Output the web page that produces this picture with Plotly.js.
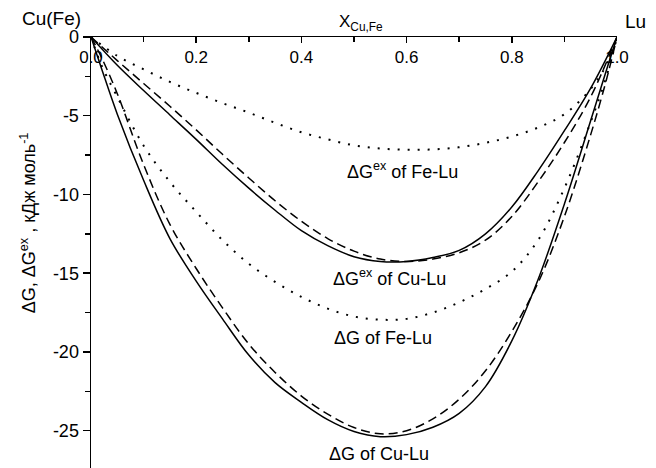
<!DOCTYPE html>
<html>
<head>
<meta charset="utf-8">
<script src="https://cdn.plot.ly/plotly-3.0.1.min.js"></script>
<style>html,body{margin:0;padding:0;background:#fff}#chart{width:656px;height:468px}</style>
</head>
<body>
<div id="chart"></div>
<script>
// ΔG^ex of Fe-Lu (dotted)
const exFeLuX = [0, 0.05, 0.1, 0.15, 0.2, 0.25, 0.3, 0.35, 0.4, 0.45, 0.5, 0.55, 0.6, 0.65, 0.7, 0.75, 0.8, 0.85, 0.9, 0.95, 0.98, 1.0];
const exFeLuY = [0, -1.2, -2.05, -2.85, -3.55, -4.2, -4.8, -5.45, -6.05, -6.5, -6.88, -7.08, -7.16, -7.14, -7.0, -6.72, -6.32, -5.75, -4.9, -3.3, -1.75, 0];
// ΔG^ex of Cu-Lu, solid
const exCuLuSolidX = [0, 0.05, 0.1, 0.15, 0.2, 0.25, 0.3, 0.35, 0.4, 0.45, 0.5, 0.55, 0.6, 0.65, 0.7, 0.75, 0.8, 0.85, 0.9, 0.95, 1.0];
const exCuLuSolidY = [0, -1.8, -3.4, -4.95, -6.5, -8.1, -9.6, -11.0, -12.3, -13.25, -13.95, -14.25, -14.25, -14.0, -13.55, -12.5, -10.8, -8.5, -5.95, -3.25, 0];
// ΔG^ex of Cu-Lu, dashed
const exCuLuDashX = [0, 0.05, 0.1, 0.15, 0.2, 0.25, 0.3, 0.35, 0.4, 0.45, 0.5, 0.55, 0.6, 0.65, 0.7, 0.75, 0.8, 0.85, 0.9, 0.95, 1.0];
const exCuLuDashY = [0, -1.5, -2.95, -4.4, -5.9, -7.45, -8.95, -10.4, -11.7, -12.8, -13.6, -14.1, -14.25, -14.1, -13.7, -12.9, -11.4, -9.2, -6.7, -3.8, 0];
// ΔG of Fe-Lu (dotted)
const gFeLuX = [0, 0.02, 0.05, 0.1, 0.15, 0.2, 0.25, 0.3, 0.35, 0.4, 0.45, 0.5, 0.55, 0.6, 0.65, 0.7, 0.75, 0.8, 0.85, 0.9, 0.95, 0.98, 1.0];
const gFeLuY = [0, -1.8, -3.8, -6.9, -9.2, -11.1, -12.9, -14.4, -15.55, -16.5, -17.25, -17.75, -17.95, -17.9, -17.5, -16.85, -16.0, -14.9, -12.9, -9.6, -5.4, -2.5, 0];
// ΔG of Cu-Lu, solid
const gCuLuSolidX = [0, 0.02, 0.05, 0.1, 0.15, 0.2, 0.25, 0.3, 0.35, 0.4, 0.45, 0.5, 0.55, 0.6, 0.65, 0.7, 0.75, 0.8, 0.85, 0.9, 0.95, 0.98, 1.0];
const gCuLuSolidY = [0, -2.0, -4.9, -9.1, -12.8, -15.5, -17.9, -20.2, -21.95, -23.2, -24.3, -25.05, -25.38, -25.25, -24.78, -23.9, -22.2, -19.3, -15.4, -10.6, -5.3, -2.1, 0];
// ΔG of Cu-Lu, dashed
const gCuLuDashX = [0, 0.02, 0.05, 0.1, 0.15, 0.2, 0.25, 0.3, 0.35, 0.4, 0.45, 0.5, 0.55, 0.6, 0.65, 0.7, 0.75, 0.8, 0.85, 0.9, 0.95, 0.98, 1.0];
const gCuLuDashY = [0, -1.3, -3.6, -8.1, -11.9, -14.7, -17.2, -19.5, -21.3, -22.8, -23.95, -24.8, -25.2, -25.0, -24.25, -23.0, -21.2, -18.7, -15.6, -11.4, -6.2, -2.7, 0];

const xTickVals = [0, 0.2, 0.4, 0.6, 0.8, 1.0];
const xTickText = ['0.0', '0.2', '0.4', '0.6', '0.8', '1.0'];
const yTickVals = [0, -5, -10, -15, -20, -25];
const yTickText = ['0', '-5', '-10', '-15', '-20', '-25'];

const labels = ['ΔG<sup>ex</sup> of Fe-Lu', 'ΔG<sup>ex</sup> of Cu-Lu', 'ΔG of Fe-Lu', 'ΔG of Cu-Lu'];
const labelX = [0.593, 0.567, 0.556, 0.547];
const labelY = [-8.45, -15.3, -19.1, -26.45];

const FONT = 'Arial, "Liberation Sans", sans-serif';
const dotted = {color: '#000', width: 2, dash: '2px,8px'};
const solid = {color: '#000', width: 1.5};
const dashed = {color: '#000', width: 1.5, dash: '9px,5px'};

const traces = [
  {x: exFeLuX, y: exFeLuY, mode: 'lines', line: dotted},
  {x: exCuLuSolidX, y: exCuLuSolidY, mode: 'lines', line: solid},
  {x: exCuLuDashX, y: exCuLuDashY, mode: 'lines', line: dashed},
  {x: gFeLuX, y: gFeLuY, mode: 'lines', line: dotted},
  {x: gCuLuSolidX, y: gCuLuSolidY, mode: 'lines', line: solid},
  {x: gCuLuDashX, y: gCuLuDashY, mode: 'lines', line: dashed}
];
traces.forEach(t => { t.line = Object.assign({shape: 'spline', smoothing: 1}, t.line); t.hoverinfo = 'skip'; });

const annotations = labels.map((t, i) => ({
  text: t, x: labelX[i], y: labelY[i], xref: 'x', yref: 'y', showarrow: false,
  font: {family: FONT, size: 18, color: '#000'}
}));
annotations.push(
  {text: 'Cu(Fe)', xref: 'paper', yref: 'paper', x: 0, y: 1.0, xshift: -8, yshift: 6, xanchor: 'right', yanchor: 'bottom', showarrow: false, font: {family: FONT, size: 19, color: '#000'}},
  {text: 'Lu', xref: 'paper', yref: 'paper', x: 1, y: 1.0, xshift: 6, yshift: 3, xanchor: 'left', yanchor: 'bottom', showarrow: false, font: {family: FONT, size: 19, color: '#000'}},
  {text: 'X<sub>Cu,Fe</sub>', xref: 'paper', yref: 'paper', x: 0.5, y: 1.0, xshift: 7, yshift: 1, xanchor: 'center', yanchor: 'bottom', showarrow: false, font: {family: FONT, size: 17, color: '#000'}},
  {text: 'ΔG, ΔG<sup>ex</sup> , кДж моль<sup>-1</sup>', xref: 'paper', yref: 'paper', x: 0, xshift: -63, y: 0.568, xanchor: 'center', yanchor: 'middle', textangle: -90, showarrow: false, font: {family: FONT, size: 18, color: '#000'}}
);

const layout = {
  width: 656, height: 468,
  margin: {l: 91, r: 39, t: 37, b: 0, pad: 0},
  paper_bgcolor: '#fff', plot_bgcolor: '#fff',
  showlegend: false,
  font: {family: FONT, color: '#000'},
  xaxis: {
    range: [0, 1], side: 'top', showline: true, linecolor: '#000', linewidth: 1.5,
    showgrid: false, zeroline: false,
    tickvals: xTickVals, ticktext: xTickText,
    ticks: 'inside', ticklen: 6, tickwidth: 1.5, tickcolor: '#000',
    ticklabelposition: 'inside', ticklabeloverflow: 'allow', ticklabelstandoff: 9,
    tickfont: {family: FONT, size: 17, color: '#000'},
    minor: {dtick: 0.1, tick0: 0, ticks: 'inside', ticklen: 5, tickwidth: 1.5, tickcolor: '#000'}
  },
  yaxis: {
    range: [-27.37, 0], showline: true, linecolor: '#000', linewidth: 1.5,
    showgrid: false, zeroline: false,
    tickvals: yTickVals, ticktext: yTickText,
    ticks: 'outside', ticklen: 7, tickwidth: 1.5, tickcolor: '#000',
    tickfont: {family: FONT, size: 18, color: '#000'},
    minor: {dtick: 2.5, tick0: 0, ticks: 'outside', ticklen: 5, tickwidth: 1.5, tickcolor: '#000'}
  },
  annotations: annotations
};

Plotly.newPlot('chart', traces, layout, {staticPlot: true, displayModeBar: false});
</script>
</body>
</html>
